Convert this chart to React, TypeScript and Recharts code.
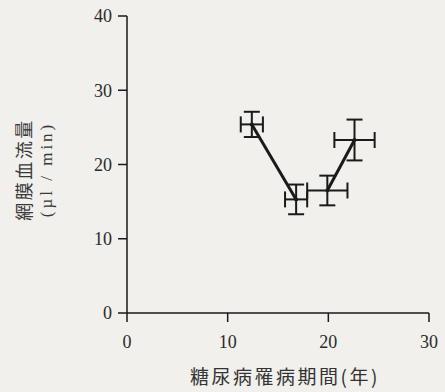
import React from 'react';
import { ScatterChart, Scatter, XAxis, YAxis, ErrorBar, Label } from 'recharts';

// 糖尿病罹病期間 (年) and 網膜血流量 (µl/min)
const durationYears = [12.4, 16.8, 19.9, 22.6];
const flowValues = [25.4, 15.3, 16.5, 23.3];
const durationErr = [1.1, 1.1, 2.0, 2.0];
const flowErr = [1.7, 2.0, 2.0, 2.75];
const segmentOf = [0, 0, 1, 1];
const xTicks = [0, 10, 20, 30];
const yTicks = [0, 10, 20, 30, 40];

const rows = durationYears.map((x, i) => ({
  x,
  y: flowValues[i],
  ex: durationErr[i],
  ey: flowErr[i],
  seg: segmentOf[i],
}));
const segA = rows.filter((r) => r.seg === 0);
const segB = rows.filter((r) => r.seg === 1);

const INK = '#1a1a1a';
const SERIF = '"Liberation Serif", "DejaVu Serif", serif';
const CJK = '"Noto Sans CJK JP", "Noto Sans CJK SC", sans-serif';

const YTitle = (props: any) => {
  const vb = props.viewBox || { x: 0, y: 16, width: 127, height: 297 };
  const cy = vb.y + vb.height / 2 + 5;
  const x1 = (vb.x || 0) + 22.5;
  const x2 = (vb.x || 0) + 46;
  return (
    <g>
      <text
        x={0}
        y={0}
        transform={`translate(${x1} ${cy}) rotate(-90)`}
        textAnchor="middle"
        dominantBaseline="central"
        style={{ fontFamily: CJK, fontSize: 18, letterSpacing: 2.5, fill: '#383838' }}
      >
        網膜血流量
      </text>
      <text
        x={0}
        y={0}
        transform={`translate(${x2} ${cy}) rotate(-90)`}
        textAnchor="middle"
        dominantBaseline="central"
        style={{ fontFamily: SERIF, fontSize: 17, letterSpacing: 3, fill: '#383838' }}
      >
        (µl / min)
      </text>
    </g>
  );
};

const XTitle = (props: any) => {
  const vb = props.viewBox || { x: 127, y: 313, width: 302, height: 79 };
  const cx = vb.x + vb.width / 2 + 7;
  return (
    <text
      x={cx}
      y={vb.y + 71}
      textAnchor="middle"
      style={{ fontFamily: CJK, fontSize: 19, letterSpacing: 2.5, fill: '#333' }}
    >
      糖尿病罹病期間(年)
    </text>
  );
};

const Dot = (props: any) => <circle cx={props.cx} cy={props.cy} r={2} fill={INK} />;

export default function App() {
  return (
    <div style={{ position: 'absolute', left: 0, top: 0, width: 445, height: 392, background: '#f1f0ec' }}>
      <ScatterChart width={445} height={392} margin={{ top: 16, right: 16, left: 0, bottom: 0 }}>
        <XAxis
          type="number"
          dataKey="x"
          domain={[0, 30]}
          ticks={xTicks}
          height={79}
          axisLine={{ stroke: INK, strokeWidth: 1.5 }}
          tickLine={{ stroke: INK, strokeWidth: 1.5 }}
          tickSize={9}
          tickMargin={13}
          tick={{ fill: '#2a2a2a', fontSize: 18, fontFamily: SERIF }}
        >
          <Label content={<XTitle />} />
        </XAxis>
        <YAxis
          type="number"
          dataKey="y"
          domain={[0, 40]}
          ticks={yTicks}
          width={127}
          axisLine={{ stroke: INK, strokeWidth: 1.5 }}
          tickLine={{ stroke: INK, strokeWidth: 1.5 }}
          tickSize={9}
          tickMargin={6}
          tick={{ fill: '#2a2a2a', fontSize: 18, fontFamily: SERIF }}
        >
          <Label content={<YTitle />} />
        </YAxis>
        <Scatter
          data={segA}
          isAnimationActive={false}
          line={{ stroke: INK, strokeWidth: 3 }}
          shape={<Dot />}
          fill={INK}
        >
          <ErrorBar dataKey="ex" direction="x" width={8} stroke={INK} strokeWidth={2} isAnimationActive={false} />
          <ErrorBar dataKey="ey" direction="y" width={8} stroke={INK} strokeWidth={2} isAnimationActive={false} />
        </Scatter>
        <Scatter
          data={segB}
          isAnimationActive={false}
          line={{ stroke: INK, strokeWidth: 3 }}
          shape={<Dot />}
          fill={INK}
        >
          <ErrorBar dataKey="ex" direction="x" width={8} stroke={INK} strokeWidth={2} isAnimationActive={false} />
          <ErrorBar dataKey="ey" direction="y" width={8} stroke={INK} strokeWidth={2} isAnimationActive={false} />
        </Scatter>
      </ScatterChart>
    </div>
  );
}
